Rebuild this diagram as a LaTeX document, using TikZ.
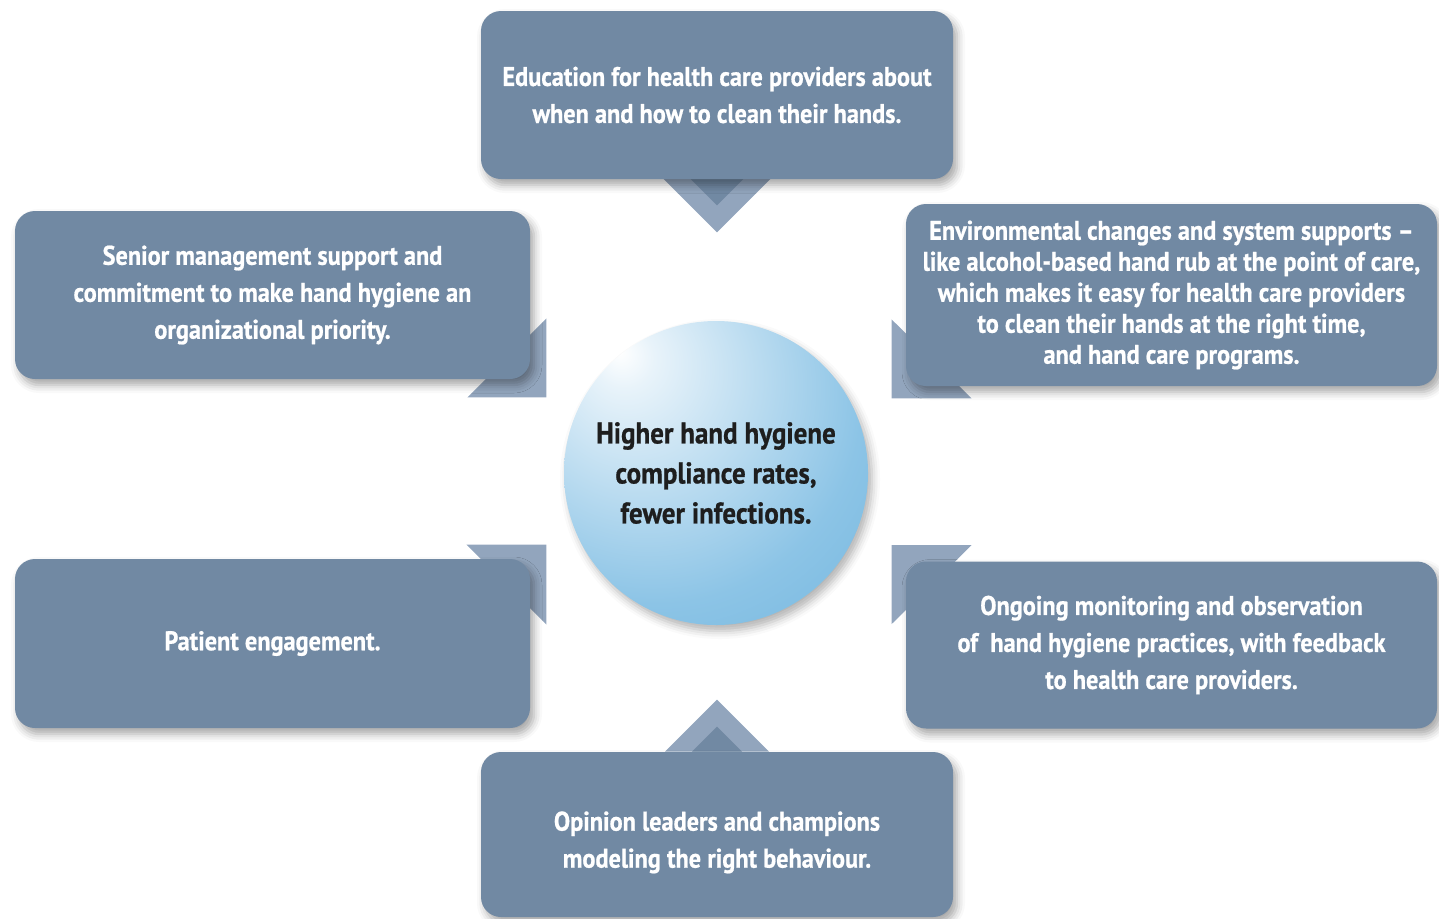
\documentclass[tikz,border=0pt]{standalone}
\usepackage{fontspec}
\newfontfamily\cardfont{PT Sans}[FakeStretch=0.9, FakeBold=0.7, Ligatures=TeX]
\usetikzlibrary{positioning, calc, shadows.blur, backgrounds}
\definecolor{cardcol}{RGB}{113,137,163}
\definecolor{tabcol}{RGB}{146,165,189}
\definecolor{orbhi}{RGB}{232,243,250}
\definecolor{orbmid}{RGB}{140,196,230}
\definecolor{orbedge}{RGB}{86,166,213}
\definecolor{orbtext}{RGB}{30,30,30}
\pgfdeclareradialshading{orb}{\pgfpoint{-16bp}{20bp}}{color(0bp)=(white); color(5bp)=(orbhi); color(34bp)=(orbmid); color(70bp)=(orbedge); color(90bp)=(orbedge)}

\begin{document}
\begin{tikzpicture}[x=0.5pt, y=-0.5pt,
    card/.style={rounded corners=10pt, fill=cardcol, text=white, align=center, inner sep=0pt,
      font=\cardfont\bfseries\fontsize{13.5}{18.5}\selectfont,
      blur shadow={shadow xshift=2pt, shadow yshift=-3pt, shadow blur radius=4pt, shadow opacity=35}},
    tab/.style={fill=tabcol}]
  \useasboundingbox (0,0) rectangle (1439,918);

  \node[card, minimum width=236pt, minimum height=84pt] (edu) at (717,95)
    {Education for health care providers about\\ when and how to clean their hands.};
  \node[card, minimum width=257.5pt, minimum height=84pt] (senior) at (272.5,295)
    {Senior management support and\\ commitment to make hand hygiene an\\ organizational priority.};
  \node[card, minimum width=265.5pt, minimum height=91pt, font=\cardfont\bfseries\fontsize{13.5}{15.5}\selectfont] (env) at (1171.5,295)
    {Environmental changes and system supports \textendash\\ like alcohol-based hand rub at the point of care,\\
     which makes it easy for health care providers\\ to clean their hands at the right time,\\ and hand care programs.};
  \node[card, minimum width=257.5pt, minimum height=84.5pt] (patient) at (272.5,643.5) {Patient engagement.};
  \node[card, minimum width=265.5pt, minimum height=83.5pt] (monitor) at (1171.5,645)
    {Ongoing monitoring and observation\\ of\ \ hand hygiene practices, with feedback\\ to health care providers.};
  \node[card, minimum width=236pt, minimum height=82.5pt, text height=36pt] (leaders) at (717,834.5)
    {Opinion leaders and champions\\ modeling the right behaviour.};

  \node[circle, minimum size=152pt, shading=orb, text=orbtext, align=center,
    font=\cardfont\bfseries\fontsize{15}{20}\selectfont,
    blur shadow={shadow xshift=2pt, shadow yshift=-3pt, shadow blur radius=4pt, shadow opacity=30}] (goal) at (716,473)
    {Higher hand hygiene\\ compliance rates,\\ fewer infections.};

  % pointers towards the goal
  \begin{scope}[on background layer]
    \fill[tab] (edu.south) ++(-54,-1) -- ++(54,54) -- ++(54,-54) -- cycle;
    \fill[cardcol] (edu.south) ++(-27,-1) -- ++(27,27) -- ++(27,-27) -- cycle;
    \fill[tab] (leaders.north) ++(-52,0) -- ++(52,-52) -- ++(52,52) -- cycle;
    \fill[cardcol] (leaders.north) ++(-25,0) -- ++(25,-25) -- ++(25,25) -- cycle;
    \fill[tab] (senior.south east) ++(16,-61) -- ++(0,79) -- ++(-79,0) -- cycle;
    \fill[tab] (env.south west) ++(-14,-67) -- ++(0,79) -- ++(80,0) -- cycle;
    \fill[tab] (patient.north east) ++(16,-14) -- ++(-80,0) -- ++(80,80) -- cycle;
    \fill[tab] (monitor.north west) ++(-14,-16) -- ++(80,0) -- ++(-80,79) -- cycle;
  \end{scope}
\end{tikzpicture}
\end{document}
